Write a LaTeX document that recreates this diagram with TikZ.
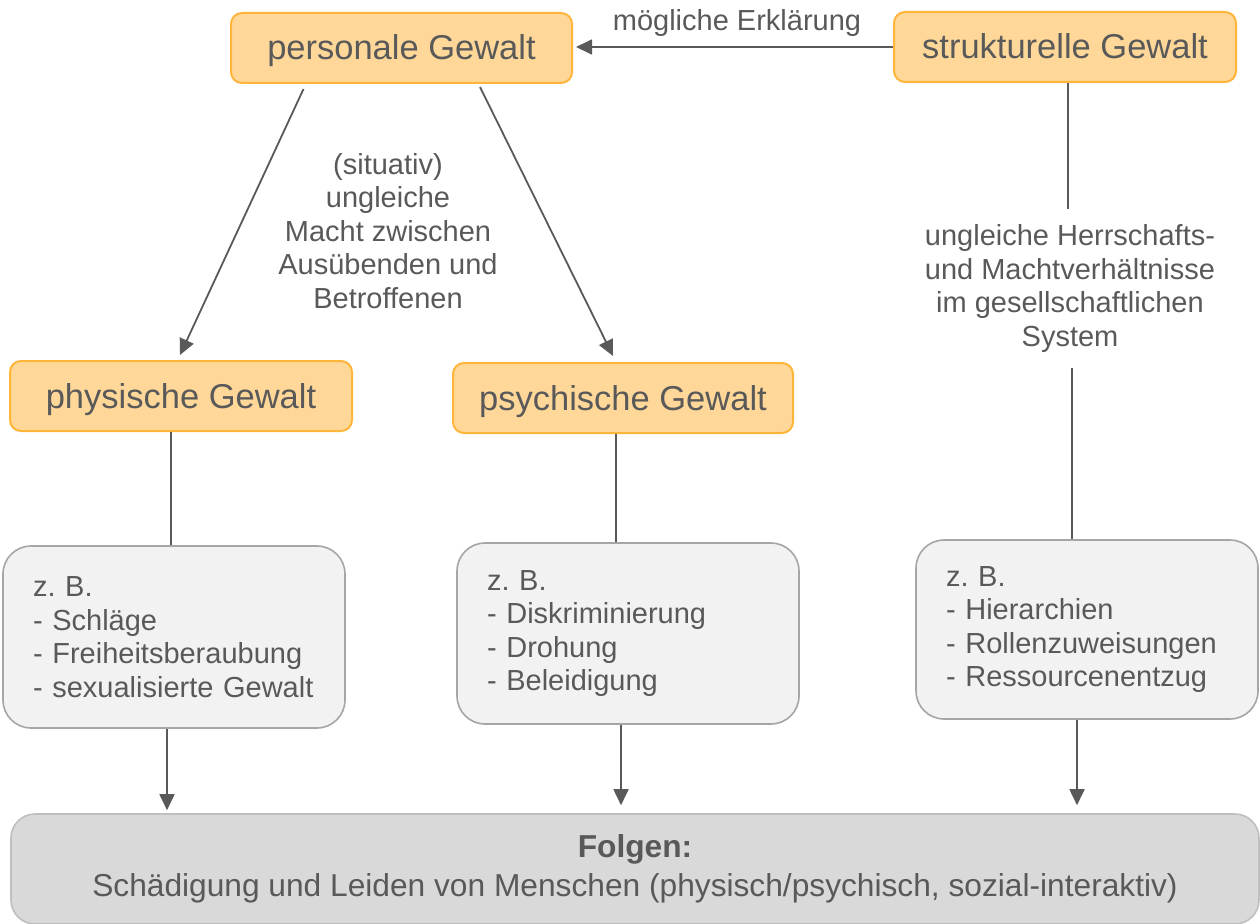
\documentclass[tikz,border=0pt]{standalone}
\usepackage{fontspec}
\setmainfont{Liberation Sans}
\usetikzlibrary{arrows.meta}
\frenchspacing
\definecolor{txt}{HTML}{595959}
\definecolor{ofill}{HTML}{FFD899}
\definecolor{oline}{HTML}{FFB53A}
\definecolor{gfill}{HTML}{F2F2F2}
\definecolor{gline}{HTML}{A6A6A6}
\definecolor{ffill}{HTML}{D9D9D9}
\definecolor{fline}{HTML}{BFBFBF}
\tikzset{
  big/.style={font=\fontsize{34.5}{40}\selectfont\frenchspacing},
  small/.style={font=\fontsize{29}{33.5}\selectfont\frenchspacing},
  obox/.style={draw=oline, fill=ofill, line width=2pt, rounded corners=11pt,
    text=txt, big, minimum height=70pt, inner sep=0pt, text height=28pt, text depth=4pt},
  gbox/.style={draw=gline, fill=gfill, line width=1.6pt, rounded corners=28pt,
    text=txt, small, align=left, text width=282pt, inner xsep=30pt, inner ysep=0pt,
    minimum width=342pt},
  fbox/.style={draw=fline, fill=ffill, line width=1.6pt, rounded corners=24pt,
    text=txt, font=\fontsize{31.7}{37}\selectfont\frenchspacing, align=center,
    minimum width=1248pt, minimum height=110pt, inner sep=0pt},
  lbl/.style={text=txt, small, align=center, inner sep=0pt},
  conn/.style={draw=txt, line width=1.8pt},
  arr/.style={conn, -{Triangle[length=16pt,width=15pt]}},
}
\begin{document}
\begin{tikzpicture}[x=1pt,y=-1pt]
\useasboundingbox (0,0) rectangle (1260,923);
% orange boxes
\node[obox, minimum width=341pt] (pers) at (401.5,48) {personale Gewalt};
\node[obox, minimum width=342pt] (strukt) at (1065,47) {strukturelle Gewalt};
\node[obox, minimum width=342pt] (phys) at (181,396) {physische Gewalt};
\node[obox, minimum width=340pt] (psych) at (623,398) {psychische Gewalt};
% grey boxes
\node[gbox, minimum height=182pt] (ex1) at (174,637) {z. B.\\- Schläge\\- Freiheitsberaubung\\- sexualisierte Gewalt};
\node[gbox, minimum height=181pt] (ex2) at (628,633.5) {z. B.\\- Diskriminierung\\- Drohung\\- Beleidigung};
\node[gbox, minimum height=179pt] (ex3) at (1087,629.5) {z. B.\\- Hierarchien\\- Rollenzuweisungen\\- Ressourcenentzug};
% result box
\node[fbox] (folgen) at (635,869) {\textbf{Folgen:}\\[2pt]Schädigung und Leiden von Menschen (physisch/psychisch, sozial-interaktiv)};
% labels
\node[lbl] (erkl) at (737,23) {mögliche Erklärung};
\node[lbl] (clabel) at (388,231) {(situativ)\\ungleiche\\Macht zwischen\\Ausübenden und\\Betroffenen};
\node[lbl, minimum height=159pt] (rlabel) at (1070,288.5) {ungleiche Herrschafts-\\und Machtverhältnisse\\im gesellschaftlichen\\System};
% connectors
\draw[arr, shorten >=3pt] (strukt.west) -- (strukt.west -| pers.east);
\draw[arr] ([xshift=-98pt,yshift=-5pt]pers.south) -- ([xshift=-1pt,yshift=5pt]phys.north);
\draw[arr] ([xshift=78.5pt,yshift=-3pt]pers.south) -- ([xshift=-10pt,yshift=6pt]psych.north);
\draw[conn] ([xshift=-10pt]phys.south) -- ([xshift=-10pt]phys.south |- ex1.north);
\draw[conn] ([xshift=-7pt]psych.south) -- ([xshift=-7pt]psych.south |- ex2.north);
\draw[conn] ([xshift=3pt]strukt.south) -- ([xshift=3pt]strukt.south |- rlabel.north);
\draw[conn] ([xshift=-15pt]ex3.north |- rlabel.south) -- ([xshift=-15pt]ex3.north);
\draw[arr, shorten >=3pt] ([xshift=-7pt]ex1.south) -- ([xshift=-7pt]ex1.south |- folgen.north);
\draw[arr, shorten >=8pt] ([xshift=-7pt]ex2.south) -- ([xshift=-7pt]ex2.south |- folgen.north);
\draw[arr, shorten >=8pt] ([xshift=-10pt]ex3.south) -- ([xshift=-10pt]ex3.south |- folgen.north);
\end{tikzpicture}
\end{document}
